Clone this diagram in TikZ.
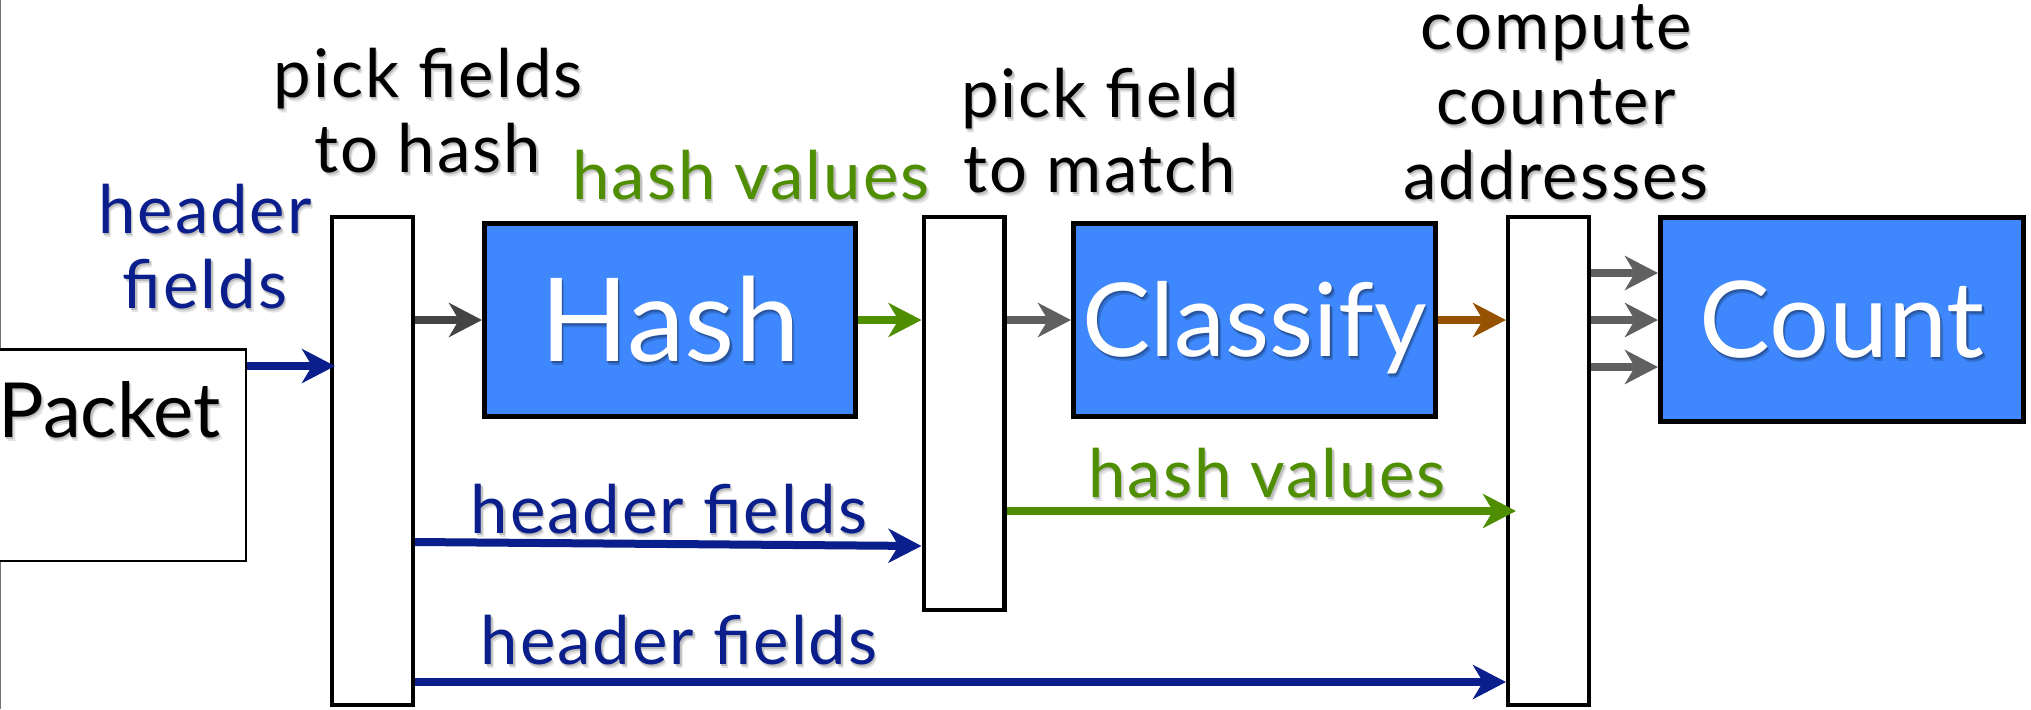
\documentclass[tikz,border=0pt]{standalone}
\usepackage{fontspec}
\setmainfont{Lato}
\newfontfamily\lblfont[LetterSpace=3]{Lato}
\usetikzlibrary{arrows.meta}

\definecolor{boxblue}{RGB}{62,135,252}
\definecolor{navy}{RGB}{10,30,140}
\definecolor{leaf}{RGB}{78,142,0}
\definecolor{rust}{RGB}{150,82,0}
\definecolor{darkgrey}{RGB}{68,68,68}
\definecolor{midgrey}{RGB}{96,96,96}

% text with a soft drop shadow: #1 near shadow colour, #2 far shadow colour, #3 text
\newcommand\shd[3]{%
  \rlap{\kern1.3pt\raisebox{-2.0pt}{\color{#2}#3}}%
  \rlap{\kern0.7pt\raisebox{-1.1pt}{\color{#1}#3}}%
  #3}
\newcommand\lshd[1]{\shd{black!26}{black!11}{#1}}
\newcommand\wshd[1]{\shd{boxblue!62!black}{boxblue!82!black}{#1}}

\tikzset{
  lbl/.style={font=\lblfont\fontsize{33.5pt}{37.5pt}\selectfont, inner sep=0pt, align=center, anchor=base},
  bar/.style={draw=black, fill=white, line width=2.2pt, minimum width=40.3pt, inner sep=0pt},
  block/.style={draw=black, fill=boxblue, line width=2.5pt, text=white, inner sep=0pt, text depth=0pt},
  pktbox/.style={draw=black, fill=white, line width=1.25pt, inner sep=0pt},
  flow/.style={line width=4pt, -{Stealth[length=16.5pt, width=17pt, inset=5pt]}},
}

\begin{document}
\begin{tikzpicture}[x=0.5pt,y=-0.5pt]
\useasboundingbox (0,0) rectangle (2031,709);
\clip (0,0) rectangle (2031,709);
\fill[white] (0,0) rectangle (2031,709);

% slide edge
\draw[black!55, line width=0.6pt] (0.8,0) -- (0.8,709);

% packet
\node[pktbox, minimum width=137.25pt, minimum height=105.75pt] (pkt) at (108.5,455) {};
\node[anchor=base, inner sep=0pt, font=\fontsize{38pt}{44pt}\selectfont] (pkttxt) at (109.5,437) {\lshd{Packet}};

% selector bars
\node[bar, minimum height=243.8pt] (b1) at (372.5,461) {};
\node[bar, minimum height=196.3pt] (b2) at (964,413.5) {};
\node[bar, minimum height=243.8pt] (b3) at (1548.5,461) {};

% processing blocks (text height = cap height, so the capitals sit centred)
\node[block, minimum width=185.5pt, minimum height=96.5pt, text height=41.6pt, font=\fontsize{58pt}{64pt}\selectfont] (hash) at (670,320) {\wshd{Hash}};
\node[block, minimum width=181pt, minimum height=96.5pt, text height=36.5pt, font=\fontsize{51pt}{58pt}\selectfont] (cls) at (1254.5,320) {\wshd{Classify}};
\node[block, minimum width=181.5pt, minimum height=102pt, text height=38pt, font=\fontsize{53pt}{60pt}\selectfont] (cnt) at (1842,319.5) {\wshd{Count}};

% labels (anchored at the baseline of the last line)
\node[lbl, text=black] (l1) at (428,172) {\lshd{pick fields}\\\lshd{to hash}};
\node[lbl, text=black] (l2) at (1100,192) {\lshd{pick field}\\\lshd{to match}};
\node[lbl, text=black] (l3) at (1556,199) {\lshd{compute}\\\lshd{counter}\\\lshd{addresses}};
\node[lbl, text=navy] (l4) at (205,308) {\lshd{header}\\\lshd{fields}};
\node[lbl, text=leaf] (l5) at (751,199) {\lshd{hash values}};
\node[lbl, text=navy] (l6) at (669,533) {\lshd{header fields}};
\node[lbl, text=leaf] (l7) at (1267,497) {\lshd{hash values}};
\node[lbl, text=navy] (l8) at (679,664) {\lshd{header fields}};

% connectors
\draw[flow, navy, shorten >=-2.5pt] (pkt.east |- 0,366) -- (b1.west |- 0,366);
\draw[flow, darkgrey] (b1.east |- hash.west) -- (hash.west);
\draw[flow, leaf] (hash.east) -- (b2.west |- hash.east);
\draw[flow, midgrey] (b2.east |- cls.west) -- (cls.west);
\draw[flow, rust] (cls.east) -- (b3.west |- cls.east);
\draw[flow, midgrey] (b3.east |- 0,273) -- (cnt.west |- 0,273);
\draw[flow, midgrey] (b3.east |- 0,320) -- (cnt.west |- 0,320);
\draw[flow, midgrey] (b3.east |- 0,367) -- (cnt.west |- 0,367);
\draw[flow, navy] (b1.east |- 0,542) -- (b2.west |- 0,546);
\draw[flow, leaf, shorten >=-5pt] (b2.east |- 0,511) -- (b3.west |- 0,511);
\draw[flow, navy] (b1.east |- 0,682) -- (b3.west |- 0,682);
\end{tikzpicture}
\end{document}
